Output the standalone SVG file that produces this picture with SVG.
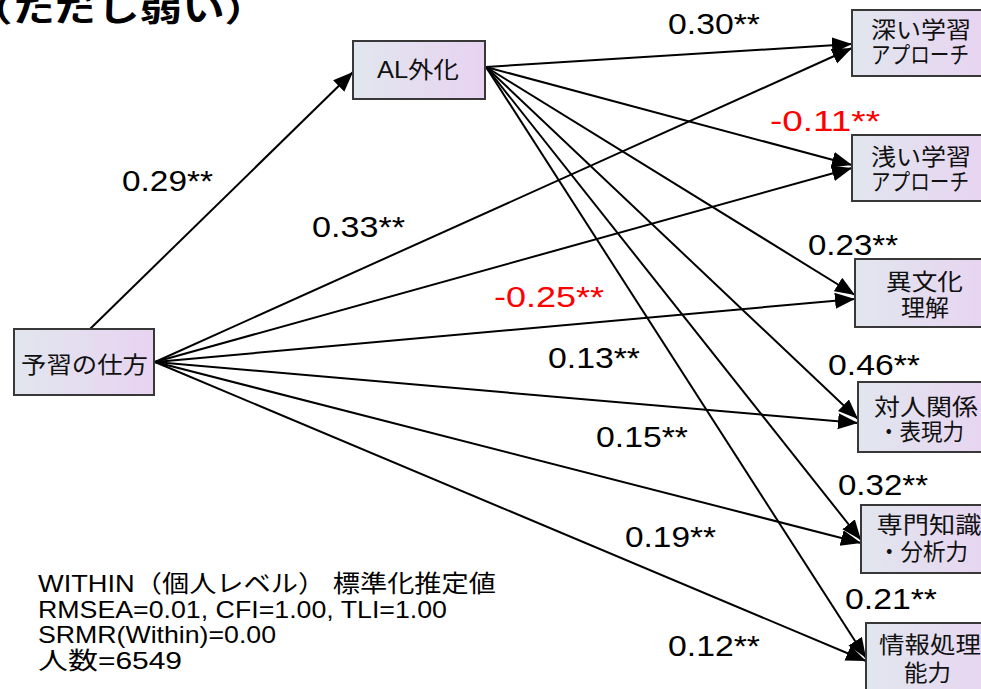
<svg xmlns="http://www.w3.org/2000/svg" width="981" height="689" viewBox="0 0 981 689">
  <defs>
    <linearGradient id="boxFill" x1="0" y1="0" x2="1" y2="0">
      <stop offset="0" stop-color="#e1e6ee"/>
      <stop offset="1" stop-color="#e8d3f1"/>
    </linearGradient>
    <marker id="arrow" markerUnits="userSpaceOnUse" markerWidth="21" markerHeight="17" refX="20" refY="8" orient="auto">
      <path d="M0,0 L20,8 L0,16 Z" fill="#000"/>
    </marker>
  </defs>
  <style>
    .box { fill: url(#boxFill); stroke: #383838; stroke-width: 2; }
    .nt { font-family: "Liberation Sans", "Noto Sans CJK JP", sans-serif; font-size: 23px; fill: #111; text-anchor: middle; }
    .lbl { font-family: "Liberation Sans", "Noto Sans CJK JP", sans-serif; font-size: 29px; fill: #000; }
    .neg { fill: #ff0000; }
    .note { font-family: "Liberation Sans", "Noto Sans CJK JP", sans-serif; font-size: 24px; fill: #000; }
    .edge { stroke: #000; stroke-width: 2; fill: none; marker-end: url(#arrow); }
  </style>

  <rect width="981" height="689" fill="#ffffff"/>

  <!-- heading fragment at top left -->
  <text x="-30" y="21" font-family="'Noto Sans CJK JP', sans-serif" font-size="33" font-weight="bold" textLength="297" lengthAdjust="spacingAndGlyphs">（ただし弱い）</text>

  <!-- paths -->
  <g id="connectors">
    <line class="edge" x1="90" y1="329" x2="353" y2="72"/>
    <!-- from 予習の仕方 -->
    <line class="edge" x1="155" y1="362" x2="852" y2="48"/>
    <line class="edge" x1="155" y1="362" x2="852" y2="168"/>
    <line class="edge" x1="155" y1="362" x2="855" y2="299"/>
    <line class="edge" x1="155" y1="362" x2="858" y2="423"/>
    <line class="edge" x1="155" y1="362" x2="861" y2="543"/>
    <line class="edge" x1="155" y1="362" x2="866" y2="661"/>
    <!-- from AL外化 -->
    <line class="edge" x1="486" y1="67" x2="852" y2="44"/>
    <line class="edge" x1="486" y1="67" x2="852" y2="165"/>
    <line class="edge" x1="486" y1="67" x2="855" y2="295"/>
    <line class="edge" x1="486" y1="67" x2="858" y2="419"/>
    <line class="edge" x1="486" y1="67" x2="861" y2="540"/>
    <line class="edge" x1="486" y1="67" x2="866" y2="658"/>
  </g>

  <!-- path coefficients -->
  <g id="labels">
    <text class="lbl" x="668" y="34" textLength="92" lengthAdjust="spacingAndGlyphs">0.30**</text>
    <text class="lbl neg" x="770" y="131" textLength="110" lengthAdjust="spacingAndGlyphs">-0.11**</text>
    <text class="lbl" x="122" y="191" textLength="91" lengthAdjust="spacingAndGlyphs">0.29**</text>
    <text class="lbl" x="312" y="237" textLength="93" lengthAdjust="spacingAndGlyphs">0.33**</text>
    <text class="lbl" x="808" y="255" textLength="90" lengthAdjust="spacingAndGlyphs">0.23**</text>
    <text class="lbl neg" x="494" y="307" textLength="110" lengthAdjust="spacingAndGlyphs">-0.25**</text>
    <text class="lbl" x="548" y="368" textLength="92" lengthAdjust="spacingAndGlyphs">0.13**</text>
    <text class="lbl" x="828" y="375" textLength="92" lengthAdjust="spacingAndGlyphs">0.46**</text>
    <text class="lbl" x="596" y="447" textLength="92" lengthAdjust="spacingAndGlyphs">0.15**</text>
    <text class="lbl" x="838" y="495" textLength="90" lengthAdjust="spacingAndGlyphs">0.32**</text>
    <text class="lbl" x="625" y="547" textLength="91" lengthAdjust="spacingAndGlyphs">0.19**</text>
    <text class="lbl" x="845" y="609" textLength="92" lengthAdjust="spacingAndGlyphs">0.21**</text>
    <text class="lbl" x="668" y="656" textLength="92" lengthAdjust="spacingAndGlyphs">0.12**</text>
  </g>

  <g id="node-yoshu">
    <rect class="box" x="14" y="329" width="140" height="66"/>
    <text class="nt" x="84.5" y="373" font-size="24" textLength="127" lengthAdjust="spacingAndGlyphs">予習の仕方</text>
  </g>
  <g id="node-al">
    <rect class="box" x="353" y="41" width="132" height="58"/>
    <text class="nt" x="418" y="78" textLength="82" lengthAdjust="spacingAndGlyphs">AL外化</text>
  </g>
  <g id="node-deep">
    <rect class="box" x="852" y="10" width="140" height="66"/>
    <text class="nt" x="921" y="38" textLength="100" lengthAdjust="spacingAndGlyphs">深い学習</text>
    <text class="nt" x="920" y="63" textLength="98" lengthAdjust="spacingAndGlyphs">アプローチ</text>
  </g>
  <g id="node-shallow">
    <rect class="box" x="852" y="135" width="140" height="66"/>
    <text class="nt" x="921" y="165" textLength="100" lengthAdjust="spacingAndGlyphs">浅い学習</text>
    <text class="nt" x="920" y="190" textLength="98" lengthAdjust="spacingAndGlyphs">アプローチ</text>
  </g>
  <g id="node-intercultural">
    <rect class="box" x="855" y="259" width="140" height="68"/>
    <text class="nt" x="924.5" y="290" textLength="77" lengthAdjust="spacingAndGlyphs">異文化</text>
    <text class="nt" x="925" y="316" textLength="48" lengthAdjust="spacingAndGlyphs">理解</text>
  </g>
  <g id="node-interpersonal">
    <rect class="box" x="858" y="382" width="140" height="70"/>
    <text class="nt" x="926" y="415" textLength="104" lengthAdjust="spacingAndGlyphs">対人関係</text>
    <text class="nt" x="921" y="440" textLength="86" lengthAdjust="spacingAndGlyphs">・表現力</text>
  </g>
  <g id="node-expertise">
    <rect class="box" x="861" y="505" width="140" height="68"/>
    <text class="nt" x="929" y="533" textLength="105" lengthAdjust="spacingAndGlyphs">専門知識</text>
    <text class="nt" x="923" y="560" textLength="90" lengthAdjust="spacingAndGlyphs">・分析力</text>
  </g>
  <g id="node-info">
    <rect class="box" x="866" y="623" width="140" height="70"/>
    <text class="nt" x="930" y="653" textLength="102" lengthAdjust="spacingAndGlyphs">情報処理</text>
    <text class="nt" x="927.5" y="681" textLength="47" lengthAdjust="spacingAndGlyphs">能力</text>
  </g>

  <!-- fit statistics -->
  <g id="fit-notes">
    <text class="note" x="38" y="592" textLength="458" lengthAdjust="spacingAndGlyphs">WITHIN（個人レベル） 標準化推定値</text>
    <text class="note" x="38" y="618" textLength="409" lengthAdjust="spacingAndGlyphs">RMSEA=0.01, CFI=1.00, TLI=1.00</text>
    <text class="note" x="38" y="643" textLength="238" lengthAdjust="spacingAndGlyphs">SRMR(Within)=0.00</text>
    <text class="note" x="38" y="669" textLength="144" lengthAdjust="spacingAndGlyphs">人数=6549</text>
  </g>
</svg>
